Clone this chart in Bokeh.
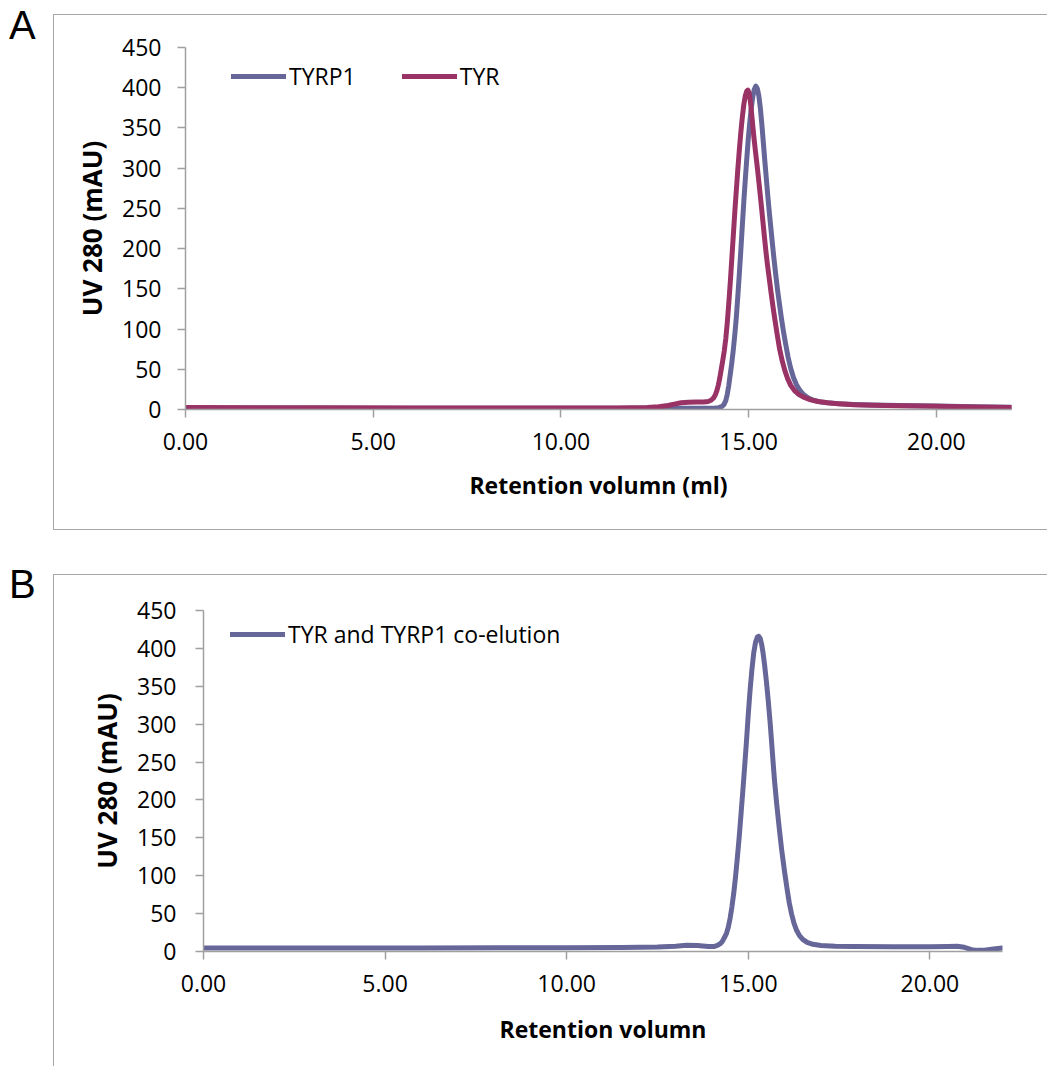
from bokeh.plotting import figure
from bokeh.models import Range1d, Legend, LegendItem, Div, Spacer, FixedTicker, NumeralTickFormatter
from bokeh.layouts import column, row
from bokeh.embed import file_html
from bokeh.resources import INLINE

# ---------------- data ----------------
# Panel A : TYRP1
x_tyrp1 = [0, 2, 4, 6, 8, 10, 12, 13, 13.8, 14.1, 14.20, 14.28, 14.34, 14.39, 14.43, 14.47,
           14.51, 14.55, 14.59, 14.63, 14.67, 14.71, 14.75, 14.79, 14.83, 14.87, 14.91, 14.95,
           14.99, 15.03, 15.07, 15.11, 15.15, 15.19, 15.23, 15.27, 15.31, 15.35, 15.39, 15.43,
           15.47, 15.51, 15.55, 15.59, 15.63, 15.67, 15.72, 15.77, 15.82, 15.87, 15.93, 15.99,
           16.05, 16.12, 16.19, 16.27, 16.36, 16.46, 16.58, 16.72, 16.90, 17.1, 17.4, 17.8,
           18.3, 19.0, 20.0, 21.0, 22.0]
y_tyrp1 = [2, 1.8, 1.6, 1.5, 1.4, 1.4, 1.4, 1.5, 1.7, 1.9, 2.2, 3.5, 6, 11, 19, 30,
           44, 58, 74, 93, 114, 140, 168, 197, 228, 258, 286, 312,
           337, 357, 375, 389, 398, 402, 399, 390, 375, 355, 332, 309,
           287, 265, 245, 226, 207, 189, 168, 148, 131, 114, 96, 80,
           65, 51, 40, 31, 24, 18.5, 14.5, 11.5, 9.5, 8.3, 7.2, 6.3,
           5.6, 5.0, 4.3, 3.5, 2.8]

# Panel A : TYR
x_tyr = [0, 2, 4, 6, 8, 10, 11.5, 12.3, 12.6, 12.85, 13.05, 13.2, 13.4, 13.6, 13.8, 13.92,
         14.0, 14.06, 14.11, 14.15, 14.19, 14.23, 14.27, 14.31, 14.35, 14.39, 14.43, 14.47,
         14.51, 14.55, 14.59, 14.63, 14.67, 14.71, 14.75, 14.79, 14.83, 14.87, 14.91, 14.95,
         14.98, 15.02, 15.06, 15.10, 15.14, 15.18, 15.22, 15.26, 15.30, 15.34, 15.38, 15.42,
         15.46, 15.50, 15.55, 15.60, 15.65, 15.70, 15.76, 15.82, 15.89, 15.96, 16.04, 16.12,
         16.22, 16.34, 16.48, 16.65, 16.85, 17.1, 17.4, 17.8, 18.3, 19.0, 20.0, 21.0, 22.0]
y_tyr = [2.5, 2.3, 2.1, 2.0, 1.9, 1.9, 2.0, 2.6, 3.5, 5, 7, 8.3, 9, 9.2, 9.4, 10,
         11.5, 14, 18, 23, 30, 39, 50, 61, 73, 88, 108, 132,
         158, 187, 216, 245, 272, 298, 322, 344, 363, 379, 390, 396,
         397, 392, 377, 357, 338, 321, 305, 288, 270, 252, 233, 214,
         196, 180, 162, 144, 127, 111, 93, 76, 61, 49, 38, 30,
         23.5, 18.5, 15, 12, 10, 8.3, 7.0, 6.0, 5.3, 4.7, 4.0, 3.2, 2.5]

# Panel B : co-elution
x_co = [0, 2, 4, 6, 8, 10, 11.5, 12.5, 13.0, 13.3, 13.6, 13.9, 14.05, 14.15, 14.22, 14.28,
        14.34, 14.40, 14.45, 14.50, 14.55, 14.60, 14.65, 14.70, 14.75, 14.80, 14.85, 14.90,
        14.95, 15.00, 15.05, 15.10, 15.15, 15.20, 15.25, 15.29, 15.33, 15.37, 15.41, 15.45,
        15.50, 15.55, 15.60, 15.64, 15.68, 15.72, 15.78, 15.85, 15.92, 16.00, 16.07, 16.13,
        16.19, 16.26, 16.33, 16.41, 16.50, 16.62, 16.78, 17.0, 17.4, 17.9, 19.0, 20.0,
        20.5, 20.75, 20.95, 21.15, 21.3, 21.5, 21.75, 22.0]
y_co = [4.5, 4.5, 4.6, 4.7, 4.8, 5.0, 5.2, 5.8, 7.0, 8.2, 8.0, 6.5, 6.5, 8, 10, 13,
        18, 24, 32, 44, 59, 77, 99, 124, 151, 181, 212, 244,
        277, 313, 345, 372, 394, 408, 415, 416, 413, 405, 393, 378,
        356, 331, 303, 278, 252, 227, 196, 164, 134, 105, 82, 64,
        50, 37, 28, 21, 16, 12, 9.5, 8, 7, 6.6, 6.3, 6.3,
        6.6, 6.8, 5.5, 2.5, 1.5, 1.8, 3.2, 4.5]

x_ticks = [0, 5, 10, 15, 20]
y_ticks = [0, 50, 100, 150, 200, 250, 300, 350, 400, 450]
x_limits = (0, 22)
y_limits = (0, 450)

COL_TYRP1 = "#666699"
COL_TYR = "#993366"
AXIS_COL = "#a0a0a0"
BOX_COL = "#a6a6a6"
FONT = "Open Sans"


def style_axes(p, xlabel, ylabel, y_standoff, ylab_standoff, xlab_standoff):
    p.xaxis.axis_label = xlabel
    p.yaxis.axis_label = ylabel
    p.xaxis.ticker = FixedTicker(ticks=x_ticks)
    p.yaxis.ticker = FixedTicker(ticks=y_ticks)
    p.xaxis.formatter = NumeralTickFormatter(format="0.00")
    for ax in (p.xaxis[0], p.yaxis[0]):
        ax.axis_line_color = AXIS_COL
        ax.axis_line_width = 1.5
        ax.major_tick_line_color = AXIS_COL
        ax.major_tick_line_width = 1.5
        ax.minor_tick_line_color = None
        ax.major_tick_in = 0
        ax.major_tick_out = 8
        ax.major_label_text_font = FONT
        ax.major_label_text_font_size = "23px"
        ax.major_label_text_color = "black"
        ax.axis_label_text_font = FONT
        ax.axis_label_text_font_style = "bold"
        ax.axis_label_text_color = "black"
    p.xaxis.axis_label_text_font_size = "23px"
    p.yaxis.axis_label_text_font_size = "26px"
    p.xaxis.major_label_standoff = 15
    p.yaxis.major_label_standoff = y_standoff
    p.xaxis.axis_label_standoff = xlab_standoff
    p.yaxis.axis_label_standoff = ylab_standoff
    p.xgrid.visible = False
    p.ygrid.visible = False
    p.outline_line_color = None


def make_fig(w, h, left, right, top, bottom, border):
    p = figure(width=w, height=h, x_range=Range1d(*x_limits), y_range=Range1d(*y_limits),
               output_backend="svg", toolbar_location=None,
               min_border_left=left, min_border_right=right,
               min_border_top=top, min_border_bottom=bottom)
    p.styles = border
    return p


def make_legend(items, loc, spacing):
    return Legend(items=items, orientation="horizontal", location=loc, padding=0, margin=0,
                  spacing=spacing, glyph_width=55, glyph_height=26, label_height=26,
                  label_standoff=3, border_line_color=None, background_fill_alpha=0,
                  label_text_font=FONT, label_text_font_size="23px", label_text_color="black")


# ---------------- panel A ----------------
pA = make_fig(994, 516, 131, 37, 32, 122,
              {"border-top": "1px solid " + BOX_COL, "border-left": "1px solid " + BOX_COL,
               "border-bottom": "1px solid " + BOX_COL})
pA.margin = (14, 0, 0, 0)
style_axes(pA, "Retention volumn (ml)", "UV 280 (mAU)", 16, 9, 16)
rb = pA.line(x_tyrp1, y_tyrp1, line_color=COL_TYRP1, line_width=5, line_join="round", line_cap="round")
rr = pA.line(x_tyr, y_tyr, line_color=COL_TYR, line_width=5, line_join="round", line_cap="round")
pA.add_layout(make_legend([LegendItem(label="TYRP1", renderers=[rb]),
                           LegendItem(label="TYR", renderers=[rr])], (46, 317), 46))

# ---------------- panel B ----------------
pB = make_fig(994, 492, 149, 46, 35, 116,
              {"border-top": "1px solid " + BOX_COL, "border-left": "1px solid " + BOX_COL})
style_axes(pB, "Retention volumn", "UV 280 (mAU)", 19, 9, 18)
rc = pB.line(x_co, y_co, line_color=COL_TYRP1, line_width=5, line_join="round", line_cap="round")
pB.add_layout(make_legend([LegendItem(label="TYR and TYRP1 co-elution", renderers=[rc])], (27, 301), 0))

letter_style = {"font-family": "Liberation Sans", "font-size": "40px", "line-height": "40px",
                "color": "black", "padding-left": "4px"}
letterA = Div(text="A", width=43, height=45, styles=letter_style)
letterB = Div(text="B", width=43, height=45, styles=letter_style)

layout = column(
    row(letterA, pA),
    row(column(Spacer(width=43, height=29), letterB), column(Spacer(width=994, height=44), pB)),
)

open("out.html", "w").write(file_html(layout, INLINE))
